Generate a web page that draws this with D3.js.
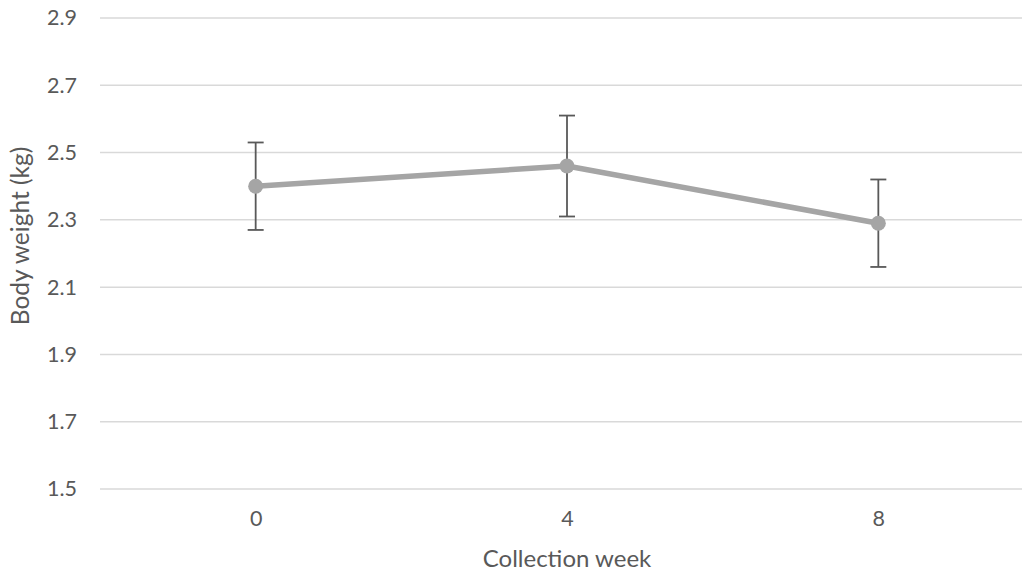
<!DOCTYPE html>
<html>
<head>
<meta charset="utf-8">
<script src="https://cdn.jsdelivr.net/npm/d3@7"></script>
<style>
  html, body { margin: 0; padding: 0; background: #fff; }
  svg { display: block; }
  text { font-family: Lato, "Open Sans", sans-serif; fill: #595959; }
</style>
</head>
<body>
<svg id="chart" width="1022" height="576"></svg>
<script>
// Body weight by collection week (mean ± error)
const weeks = ["0", "4", "8"];
const meanWeight = [2.40, 2.46, 2.29];
const errLow = [2.27, 2.31, 2.16];
const errHigh = [2.53, 2.61, 2.42];
const yTicks = [1.5, 1.7, 1.9, 2.1, 2.3, 2.5, 2.7, 2.9];

const svg = d3.select("#chart");
const margin = { left: 100, right: -12, top: 18, bottom: 87 };
const W = 1022, H = 576;

const x = d3.scalePoint()
  .domain(weeks)
  .range([margin.left, W - margin.right])
  .padding(0.5);

const y = d3.scaleLinear()
  .domain([1.5, 2.9])
  .range([H - margin.bottom, margin.top]);

// horizontal gridlines
svg.append("g")
  .selectAll("line")
  .data(yTicks)
  .join("line")
  .attr("x1", margin.left)
  .attr("x2", W - margin.right)
  .attr("y1", d => y(d))
  .attr("y2", d => y(d))
  .attr("stroke", "#d9d9d9")
  .attr("stroke-width", 1.5);

// y axis tick labels
const yAxis = d3.axisLeft(y).tickValues(yTicks).tickFormat(d3.format(".1f")).tickSize(0).tickPadding(23);
const gy = svg.append("g").attr("transform", `translate(${margin.left},0)`).call(yAxis);
gy.select(".domain").remove();
gy.selectAll("text").style("font-size", "21.5px").attr("fill", "#595959");

// x axis tick labels
const xAxis = d3.axisBottom(x).tickSize(0).tickPadding(22);
const gx = svg.append("g").attr("transform", `translate(0,${H - margin.bottom})`).call(xAxis);
gx.select(".domain").remove();
gx.selectAll("text").style("font-size", "21.5px").attr("fill", "#595959");

// axis titles
svg.append("text")
  .attr("x", x("4"))
  .attr("y", 567)
  .attr("text-anchor", "middle")
  .style("font-size", "24px")
  .text("Collection week");

svg.append("text")
  .attr("transform", `translate(29,236) rotate(-90)`)
  .attr("text-anchor", "middle")
  .style("font-size", "24.5px")
  .text("Body weight (kg)");

// mean line
const pts = weeks.map((w, i) => ({ w, v: meanWeight[i], lo: errLow[i], hi: errHigh[i] }));
svg.append("path")
  .datum(pts)
  .attr("fill", "none")
  .attr("stroke", "#a5a5a5")
  .attr("stroke-width", 5.5)
  .attr("stroke-linejoin", "round")
  .attr("d", d3.line().x(d => x(d.w)).y(d => y(d.v)));

// error bars
const eb = svg.append("g").attr("stroke", "#595959").attr("stroke-width", 1.8);
eb.selectAll("line.v").data(pts).join("line").attr("class", "v")
  .attr("x1", d => x(d.w)).attr("x2", d => x(d.w))
  .attr("y1", d => y(d.lo)).attr("y2", d => y(d.hi));
eb.selectAll("line.t").data(pts).join("line").attr("class", "t")
  .attr("x1", d => x(d.w) - 8).attr("x2", d => x(d.w) + 8)
  .attr("y1", d => y(d.hi)).attr("y2", d => y(d.hi));
eb.selectAll("line.b").data(pts).join("line").attr("class", "b")
  .attr("x1", d => x(d.w) - 8).attr("x2", d => x(d.w) + 8)
  .attr("y1", d => y(d.lo)).attr("y2", d => y(d.lo));

// markers
svg.append("g").selectAll("circle").data(pts).join("circle")
  .attr("cx", d => x(d.w))
  .attr("cy", d => y(d.v))
  .attr("r", 7.5)
  .attr("fill", "#a5a5a5");
</script>
</body>
</html>
